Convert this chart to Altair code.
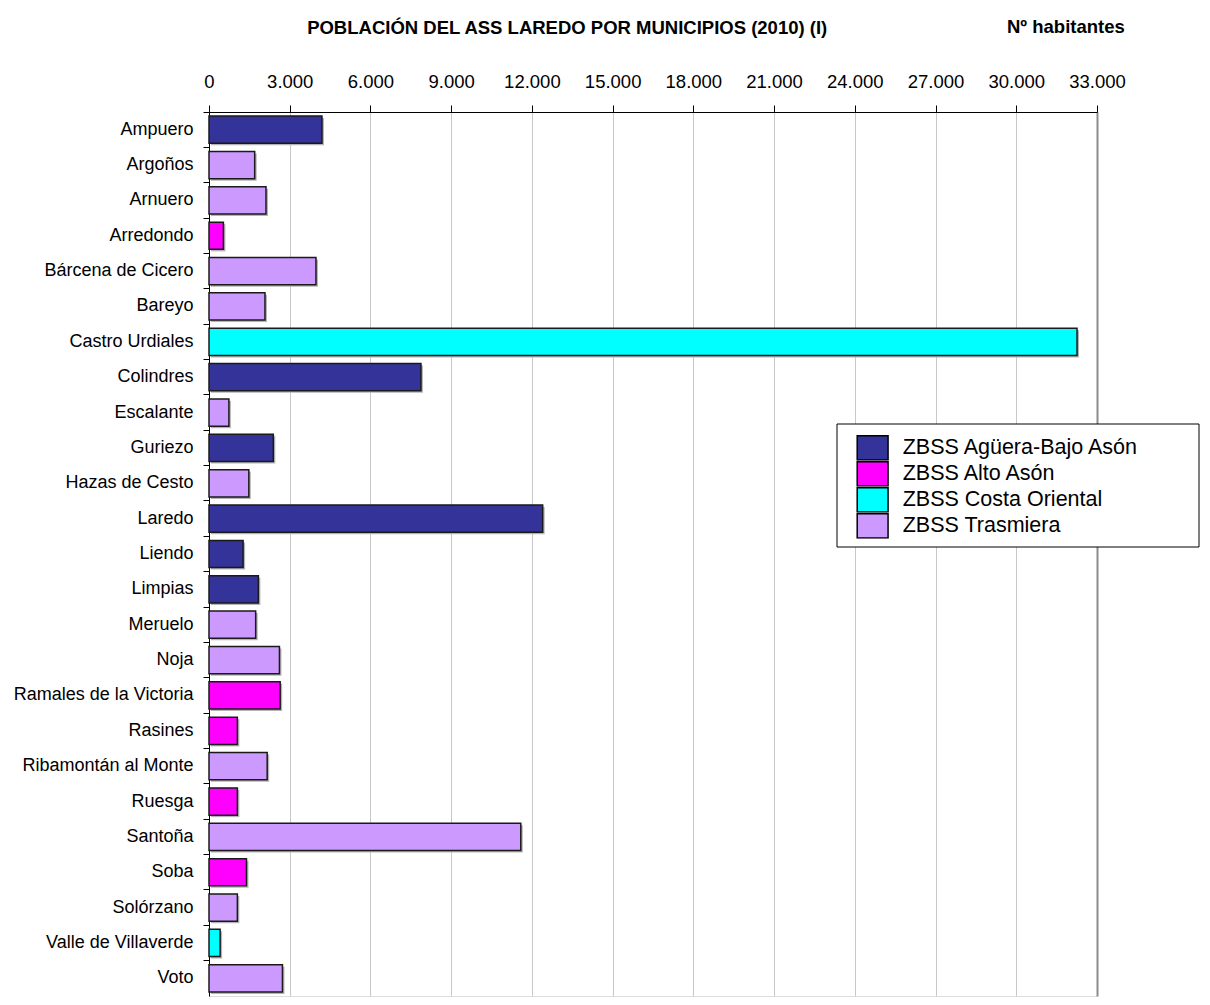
import altair as alt
import pandas as pd

municipios = ["Ampuero", "Argoños", "Arnuero", "Arredondo", "Bárcena de Cicero", "Bareyo",
              "Castro Urdiales", "Colindres", "Escalante", "Guriezo", "Hazas de Cesto", "Laredo",
              "Liendo", "Limpias", "Meruelo", "Noja", "Ramales de la Victoria", "Rasines",
              "Ribamontán al Monte", "Ruesga", "Santoña", "Soba", "Solórzano",
              "Valle de Villaverde", "Voto"]
habitantes = [4198, 1698, 2118, 535, 3975, 2080, 32258, 7876, 740, 2390, 1480, 12400,
              1267, 1835, 1735, 2618, 2645, 1054, 2162, 1054, 11587, 1393, 1054, 413, 2730]
zonas = ["ZBSS Agüera-Bajo Asón", "ZBSS Trasmiera", "ZBSS Trasmiera", "ZBSS Alto Asón",
         "ZBSS Trasmiera", "ZBSS Trasmiera", "ZBSS Costa Oriental", "ZBSS Agüera-Bajo Asón",
         "ZBSS Trasmiera", "ZBSS Agüera-Bajo Asón", "ZBSS Trasmiera", "ZBSS Agüera-Bajo Asón",
         "ZBSS Agüera-Bajo Asón", "ZBSS Agüera-Bajo Asón", "ZBSS Trasmiera", "ZBSS Trasmiera",
         "ZBSS Alto Asón", "ZBSS Alto Asón", "ZBSS Trasmiera", "ZBSS Alto Asón",
         "ZBSS Trasmiera", "ZBSS Alto Asón", "ZBSS Trasmiera", "ZBSS Costa Oriental",
         "ZBSS Trasmiera"]
zona_labels = ["ZBSS Agüera-Bajo Asón", "ZBSS Alto Asón", "ZBSS Costa Oriental", "ZBSS Trasmiera"]
zona_colors = ["#333399", "#FF00FF", "#00FFFF", "#CC99FF"]
x_ticks = [0, 3000, 6000, 9000, 12000, 15000, 18000, 21000, 24000, 27000, 30000, 33000]
titulo = "POBLACIÓN DEL ASS LAREDO POR MUNICIPIOS (2010) (I)"
unidad = "Nº habitantes"

df = pd.DataFrame({"Municipio": municipios, "Habitantes": habitantes, "Zona": zonas})

FONT = "Liberation Sans, Arial, sans-serif"

y_enc = alt.Y("Municipio:N", sort=None,
              scale=alt.Scale(paddingInner=0.23, paddingOuter=0.115),
              axis=alt.Axis(title=None, ticks=True, tickSize=6, tickColor="black",
                            bandPosition=-0.149, domainColor="black", grid=False,
                            labelFont=FONT, labelFontSize=18, labelColor="black",
                            labelPadding=10, labelLimit=300))
x_enc = alt.X("Habitantes:Q",
              scale=alt.Scale(domain=[0, 33000], nice=False),
              axis=alt.Axis(orient="top", values=x_ticks,
                            labelExpr="replace(format(datum.value, ','), ',', '.')",
                            grid=True,
                            gridColor={"condition": {"test": "datum.value === 33000",
                                                     "value": "#8c8c8c"},
                                       "value": "#c8c8c8"},
                            gridWidth={"condition": {"test": "datum.value === 33000",
                                                     "value": 2},
                                       "value": 1},
                            tickSize=7, tickColor="black", domainColor="black",
                            labelFlush=False, labelPadding=18, labelBaseline="alphabetic",
                            labelFontSize=18.5, labelFont=FONT, labelColor="black",
                            title=titulo, titleX=357.7, titleY=-78.7, titleAlign="center",
                            titleAnchor="start",
                            titleBaseline="alphabetic", titleFontSize=18.5, titleFontWeight="bold",
                            titleFont=FONT, titleColor="black"))

box = alt.Chart(alt.Data(values=[{}])).mark_rect(
    fill="white", stroke="black", strokeWidth=1
).encode(x=alt.value(628), x2=alt.value(990), y=alt.value(312), y2=alt.value(435))

shadow = alt.Chart(df).mark_bar(color="#b4b4b4", xOffset=2, yOffset=2, opacity=1).encode(
    y=y_enc, x=x_enc
)

bars = alt.Chart(df).mark_bar(stroke="#1a1a1a", strokeWidth=1.5, opacity=1).encode(
    y=y_enc,
    x=x_enc,
    color=alt.Color("Zona:N",
                    scale=alt.Scale(domain=zona_labels, range=zona_colors),
                    legend=alt.Legend(title=None, orient="none", legendX=646.7, legendY=323,
                                      padding=0, rowPadding=0, clipHeight=25.7,
                                      symbolType="M-0.95,-1H1.6V1H-0.95Z", symbolSize=586,
                                      symbolStrokeColor="black", symbolStrokeWidth=1.5,
                                      symbolOpacity=1, labelFontSize=21.5,
                                      labelFont=FONT, labelColor="black",
                                      labelOffset=21, labelLimit=400)),
)

unidad_txt = alt.Chart(alt.Data(values=[{}])).mark_text(
    text=unidad, align="left", baseline="alphabetic", fontSize=18.5, fontWeight="bold",
    font=FONT, color="black"
).encode(x=alt.value(798), y=alt.value(-78.7))

chart = alt.layer(box, shadow, bars, unidad_txt).properties(
    width=888, height=884, autosize="none",
    padding={"left": 201, "top": 104, "right": 105, "bottom": 1}
).configure_view(stroke=None).configure(background="white")

chart.save("out.html", embed_options={"renderer": "svg", "actions": False})
